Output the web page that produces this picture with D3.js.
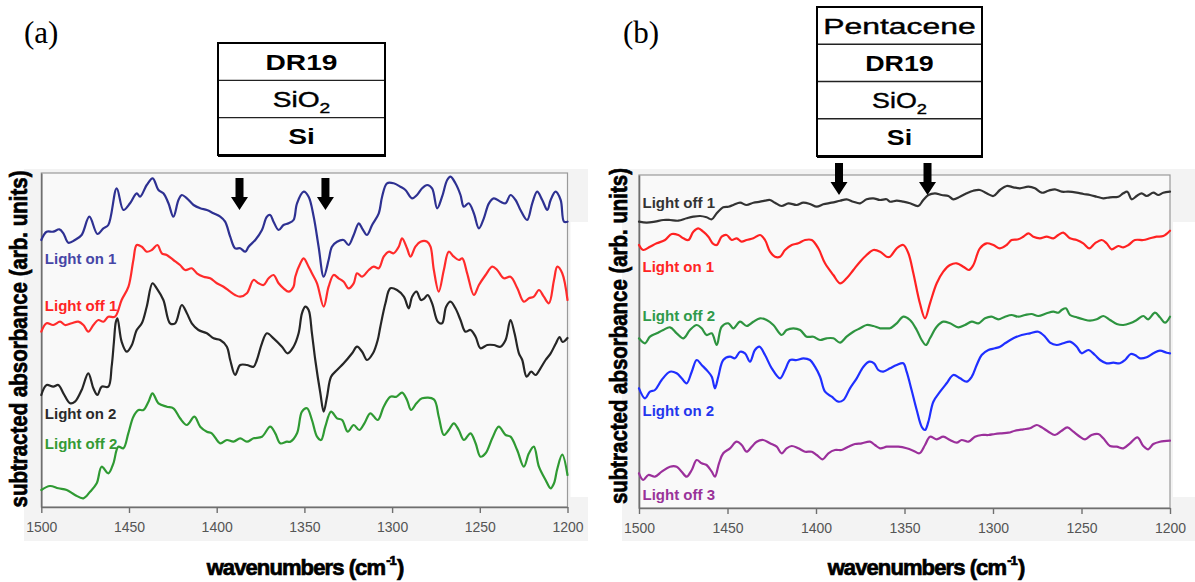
<!DOCTYPE html>
<html>
<head>
<meta charset="utf-8">
<script src="https://cdn.jsdelivr.net/npm/d3@7"></script>
<style>
  body { margin: 0; background: #ffffff; }
  svg { display: block; }
</style>
</head>
<body>
<svg id="fig" width="1195" height="582"></svg>
<script>
// ---- shared axis values ----
const wavenumberTicks = [1500, 1450, 1400, 1350, 1300, 1250, 1200];
const wavenumberDomain = [1500, 1200];
const absorbanceDomainA = [0, 334];   // arb. units
const absorbanceDomainB = [0, 333];   // arb. units

// ---- marker arrows (cm-1) ----
const arrowsA = [1387, 1338];
const arrowsB = [1387, 1337];

// ---- layer stacks ----
const layersA = ["DR19", "SiO2", "Si"];
const layersB = ["Pentacene", "DR19", "SiO2", "Si"];

// ---- series names ----
const seriesNamesA = ["Light on 1", "Light off 1", "Light on 2", "Light off 2"];
const seriesNamesB = ["Light off 1", "Light on 1", "Light off 2", "Light on 2", "Light off 3"];

// ---- panel (a) spectra: [wavenumber, subtracted absorbance] ----
const aLightOn1 = [[1500,267],[1497,275.3],[1493.2,275.3],[1489.7,277.7],[1487.4,273.7],[1484.6,264.3],[1480.8,267],[1477,272],[1472.6,290.3],[1468,273],[1464.6,278.7],[1461.8,282],[1457,318.7],[1453.2,297],[1449.4,303.7],[1445.6,313.7],[1443.7,310.3],[1439.9,322],[1436.5,328.7],[1433.2,317],[1430.4,313.7],[1427.5,303.7],[1424.7,290.3],[1421.8,307],[1419.9,312],[1417,308.7],[1413.2,302],[1409.4,298.7],[1405.6,297],[1401.8,293.7],[1398,290.3],[1395.2,285.3],[1392.3,270.3],[1389.5,258.7],[1386.6,258.7],[1383.7,255.3],[1381.8,260.3],[1378,267],[1374.2,277],[1371.4,290.3],[1369.5,292],[1367.6,285.3],[1364.7,277],[1361.9,282],[1359,283.7],[1356.2,287],[1354.2,303.7],[1350.4,315.3],[1347.6,310.3],[1344.7,290.3],[1341.9,260.3],[1339,230.3],[1336.2,247],[1334.3,260.3],[1331.4,265.3],[1327.6,267],[1324.8,262],[1321.9,272],[1319,283.7],[1317.1,278.7],[1314.3,272],[1311.4,282],[1307.6,293.7],[1305.7,310.3],[1302.9,323.7],[1299.1,323.7],[1295.3,320.3],[1292.4,317],[1288.6,308.7],[1285.8,312],[1282.9,318.7],[1280,322],[1277.2,318.7],[1274.3,298.7],[1271.5,310.3],[1268.6,327],[1266.7,330.3],[1263.9,323.7],[1261,312],[1259.1,300.3],[1256.3,303.7],[1253.4,293.7],[1250.5,278.7],[1247.7,288.7],[1244.8,303.7],[1242,308.7],[1238.2,305.3],[1235.3,303.7],[1232.5,312],[1229.6,307],[1226.8,297],[1223,287],[1220.1,303.7],[1217.3,315.3],[1214.4,307],[1211.5,297],[1209.6,307],[1206.8,315.3],[1203.9,307],[1202,285.3],[1200,285.3]];

const aLightOff1 = [[1500,175.3],[1497,183.7],[1493.2,182],[1489.3,185.3],[1486.5,182],[1482.7,183.7],[1478.9,185.3],[1476,182],[1473.2,175.3],[1470.3,182],[1467.5,187],[1464.6,185.3],[1461.8,190.3],[1458,190.3],[1454.2,207],[1450.3,220.3],[1447.5,247],[1445.6,262],[1442.7,260.3],[1439.9,255.3],[1437,257],[1433.8,262],[1431.3,253.7],[1428.5,252],[1424.7,247],[1420.9,242],[1418,237],[1414.2,238.7],[1411.3,233.7],[1407.5,230.3],[1403.7,228.7],[1399.9,223.7],[1396.1,220.3],[1392.3,215.3],[1389.5,212],[1386.6,210.3],[1382.8,213.7],[1379,227],[1376.1,223.7],[1373.3,222],[1370.4,228.7],[1367.6,232],[1364.7,223.7],[1361.9,218.7],[1359,215.3],[1356.2,220.3],[1355.2,230.3],[1352.3,243.7],[1350.4,248.7],[1347.6,240.3],[1345.7,233.7],[1342.8,223.7],[1339,200.3],[1336.2,220.3],[1333.3,232],[1330.5,228.7],[1327.6,225.3],[1324.8,218.7],[1321.9,223.7],[1320,233.7],[1317.1,230.3],[1313.3,237],[1310.5,240.3],[1307.6,238.7],[1304.8,250.3],[1301.9,255.3],[1299.1,253.7],[1296.2,260.3],[1294.3,268.7],[1291.5,258.7],[1289.5,250.3],[1286.7,260.3],[1283.8,265.3],[1280,265.3],[1278.1,260.3],[1276.2,237],[1273.4,215.3],[1270.5,237],[1267.7,255.3],[1264.8,250.3],[1261.9,247],[1260,248.7],[1257.2,233.7],[1253.4,212],[1250.5,222],[1246.7,232],[1242.9,240.3],[1240.1,237],[1236.3,228.7],[1232.5,230.3],[1228.6,218.7],[1224.9,205.3],[1222,208.7],[1219.2,210.3],[1216.3,217],[1213.5,210.3],[1210.6,203.7],[1207.7,227],[1205.8,240.3],[1203,233.7],[1200,207]];

const aLightOn2 = [[1500,112],[1497,122],[1493.2,120.3],[1490.3,122],[1487.4,113.7],[1483.6,103.7],[1480.8,105.3],[1477,117],[1473.2,133.7],[1470.3,118.7],[1468,112],[1465.6,120.3],[1461.8,120.3],[1459.9,140.3],[1458.6,165],[1457.5,185],[1456.6,188.7],[1454.2,165.3],[1451.3,155.3],[1448.4,162],[1445.6,177],[1442.7,183.7],[1439.9,200.3],[1436.6,223.7],[1434.2,218.7],[1430.4,207],[1426.6,183.7],[1423.7,183.7],[1419.9,202],[1417,193.7],[1414.2,183.7],[1410.4,177],[1405.6,173.7],[1401.8,168.7],[1398,167],[1394.2,160.3],[1392.3,147],[1389.5,132],[1386.6,142],[1382.8,142],[1379,140.3],[1377.1,147],[1374.2,163.7],[1371.4,173.7],[1367.6,168.7],[1362.8,160.3],[1359.6,153.7],[1356.2,160.3],[1353.3,173.7],[1351.4,193.7],[1349.5,200.3],[1347.6,197],[1345.7,173.7],[1343.8,147],[1340.9,113.7],[1339,95.3],[1337.1,110.3],[1334.8,130.3],[1331.4,137],[1327.6,143.7],[1322.8,153.7],[1320,160.3],[1317.1,155.3],[1314.3,147],[1310.9,153.7],[1308.2,167],[1306.7,180.3],[1303.8,203.7],[1301,218.7],[1297.2,217],[1293.3,210.3],[1290.5,198.7],[1288.6,210.3],[1286.1,215.3],[1283.5,207],[1281.6,208.7],[1279.7,212],[1277.2,203.7],[1273.9,185.3],[1271.5,183.7],[1269.2,200.3],[1266.7,205.3],[1263.9,198.7],[1261,187],[1258.2,175.3],[1255.3,177],[1252.4,170.3],[1249.6,158.7],[1245.8,162],[1242,162],[1238.2,160.3],[1235.3,167],[1232.5,187],[1230.2,173.7],[1227.7,153.7],[1225.8,147],[1223.3,130.3],[1220.7,135.3],[1218.2,132],[1215.4,138.7],[1212.5,147],[1209.6,153.7],[1206.8,163],[1204.5,170],[1202.8,165],[1200,169]];

const aLightOff2 = [[1500,17],[1495.1,21],[1490.3,18.7],[1485.5,17],[1480.8,12],[1476,8.7],[1472.2,15.3],[1468.4,23.7],[1465.6,40.3],[1461.8,33.7],[1458.9,43.7],[1456.1,60.3],[1453.2,58.7],[1450.4,73.7],[1447.5,90.3],[1444.6,97],[1441.8,97],[1438.9,105.3],[1436.6,113.7],[1433.2,103.7],[1428.5,100.3],[1424.7,98.7],[1420.9,88.7],[1417,82],[1412.7,90.3],[1409.4,80.3],[1405.6,75.3],[1402.8,73.7],[1398,63.7],[1394.2,67],[1390.4,65.3],[1386.6,68.7],[1382.8,65.3],[1379,68.7],[1374.2,70.3],[1369.5,80.3],[1366.6,73.7],[1363.8,63.7],[1360,65.3],[1358,65.3],[1354.2,73.7],[1351.4,95.3],[1348.5,98.7],[1345.7,87],[1342.8,70.3],[1340.5,67],[1338.1,80.3],[1334.8,95.3],[1331.4,88.7],[1328.5,87],[1325.3,75.3],[1321.9,82],[1318.7,77],[1315.8,83.7],[1312.4,93.7],[1308.2,87],[1304.8,100.3],[1301,110.3],[1297.5,110.3],[1294.3,114.3],[1291.5,107],[1289.2,97],[1286.1,103.7],[1282.9,108.7],[1276.2,107.7],[1273.4,90.3],[1270.5,72],[1267.7,77],[1264.8,83.7],[1262,77],[1259.1,67],[1255.3,73.7],[1252.4,63.7],[1249.6,50.3],[1246.7,53.7],[1242.9,68.7],[1239.2,80.3],[1235.3,72],[1232.5,70.3],[1228.7,57],[1224.9,40.3],[1222,53.7],[1219.2,60.3],[1216.3,40.3],[1212.5,27],[1209.6,18.7],[1207.7,23.7],[1205.8,38.3],[1203,52.3],[1200,32]];

// ---- panel (b) spectra: [wavenumber, subtracted absorbance] ----
const bLightOff1 = [[1500,286.3],[1495.7,285.3],[1491,286.3],[1486.3,288],[1482.5,288],[1477.8,287.3],[1473.1,289.7],[1469.3,291.3],[1465.5,292],[1461.8,290.7],[1458.9,288.7],[1456.1,294.7],[1452.4,300.7],[1449.5,301.3],[1446.7,303],[1442.9,305.3],[1439.2,303],[1435.4,305.3],[1431.6,306.3],[1428.8,307.3],[1426,308],[1423.2,305.3],[1419.4,302],[1415.6,304.7],[1410.9,303],[1407.2,305.3],[1403.4,304],[1399.6,301.3],[1395.9,303.7],[1391.2,305.3],[1386.4,307.3],[1382.7,308.7],[1378.9,306.3],[1375.1,304.7],[1371.4,308.7],[1367.6,309.7],[1363.9,308],[1360.1,308.7],[1358.2,306.3],[1354.4,307.3],[1350.7,306.3],[1346.9,304.7],[1342.2,302],[1339.4,308],[1336.5,313],[1332.8,314.7],[1329,313],[1325.2,312],[1322.4,308.7],[1318.7,311.3],[1314.9,314.7],[1311.1,317.3],[1307.4,318],[1303.6,314.7],[1299.8,312],[1296.1,318],[1292.3,322],[1288.5,320.7],[1284.8,319.7],[1280,321.3],[1276.3,319.7],[1272.5,315.3],[1268.7,317.3],[1265,318.7],[1261.2,316.3],[1257.4,316.3],[1252.7,315.3],[1248.9,314],[1245.2,313],[1241.4,311.3],[1237.7,309.7],[1233.9,310.7],[1229.2,311.3],[1226.4,314.7],[1224.1,316.3],[1221.7,308.7],[1218.8,312],[1216,314.7],[1213.2,312],[1209.4,315.3],[1206.6,313],[1203.8,315.3],[1200,316.3]];

const bLightOn1 = [[1500,263],[1497.6,258],[1493.8,261.3],[1490,264.7],[1485.3,268],[1481.5,274],[1477.8,273],[1474.9,269.7],[1472.1,268],[1469.3,276.3],[1466.5,279.7],[1463.7,276.3],[1460.8,271.3],[1458.4,264.7],[1456.1,263],[1453.3,271.3],[1450.5,273],[1447.6,268],[1444.8,269.7],[1442,266.3],[1439.2,268],[1435.4,269.7],[1431.6,273],[1428.8,268],[1426,256.3],[1423.2,251.3],[1420.3,251.3],[1417.5,258],[1413.7,263],[1410,264.7],[1406.2,268],[1402.4,268],[1398.7,259.7],[1394.9,244.7],[1390.2,233],[1386.4,224.7],[1382.7,229.7],[1378.9,238],[1375.1,246.3],[1371.4,253],[1367.6,258],[1363.8,256.3],[1360.1,251.3],[1358.2,251.3],[1354.4,259.7],[1350.7,263],[1347.8,254.7],[1345,234.7],[1341.3,204.7],[1338.4,189.7],[1335.6,204.7],[1331.8,224.7],[1328.1,236.3],[1324.3,243],[1320.5,244.7],[1316.8,241.3],[1313.6,238],[1311.1,243],[1307.4,259.7],[1303.6,264.7],[1299.8,263],[1296.1,259.7],[1292.3,263],[1289.5,268],[1285.7,268.7],[1282.9,271.3],[1280,274.7],[1277.2,271.3],[1273.5,269.7],[1269.7,271.3],[1265.9,269.7],[1263.1,273],[1260.3,275.3],[1256.5,269.7],[1252.7,268],[1249,264.7],[1245.6,259.7],[1242.4,264.7],[1238.6,268],[1235.8,264.7],[1233,258.7],[1229.2,262],[1226.4,260.7],[1223.5,263],[1219.8,268],[1215.1,268],[1211.3,269.7],[1207.6,271.3],[1203.8,272],[1200,277.3]];

const bLightOff2 = [[1500,169.7],[1496.6,164.7],[1493.8,171.3],[1490,174.7],[1486.3,178],[1482.5,180.7],[1478.7,174.7],[1474.9,169.7],[1471.2,178],[1467.4,183],[1464.6,179.7],[1461.8,173],[1458.9,174.7],[1456.1,163],[1453.3,181.3],[1449.5,184.7],[1446.7,179.7],[1442.9,186.3],[1439.2,182],[1435.4,186.3],[1431.6,189.7],[1427.9,188],[1424.1,183],[1419.4,173],[1416.6,178],[1412.8,179.7],[1409,178],[1405.3,171.3],[1401.5,171.3],[1397.7,168],[1394,169.7],[1390.2,169.7],[1386.4,165.3],[1382.7,171.3],[1378.9,176.3],[1375.1,179.7],[1371.4,183],[1367.6,182],[1363.8,179.7],[1360.1,179.7],[1358.2,179.7],[1354.4,184.7],[1350.7,191.3],[1346.9,188],[1343.1,178],[1340.3,168],[1337.9,163],[1335.6,169.7],[1331.8,181.3],[1328.1,186.3],[1324.3,184.7],[1319.6,180.7],[1315.8,183],[1312,186.3],[1308.3,184.7],[1304.5,189.7],[1300.8,191.3],[1297,188.7],[1293.2,191.3],[1289.5,193],[1285.7,191.3],[1281.9,193],[1278.2,194],[1274.4,192],[1269.7,194.7],[1265.9,196.3],[1263.1,195.3],[1261.2,198],[1258.8,199.7],[1256.5,193],[1252.7,190.7],[1249,188.7],[1245.2,187.3],[1241.4,188.7],[1237.7,192],[1233.9,188],[1230.1,184],[1226.4,183],[1222.6,184.7],[1218.8,188],[1215.1,192],[1212.3,188.7],[1208.5,195.3],[1205.7,190.7],[1202.8,185.3],[1200,191.3]];

const bLightOn2 = [[1500,119.7],[1496.6,109.7],[1493.8,116.3],[1491,118],[1487.2,128],[1482.5,136.3],[1478.7,134.7],[1475.9,129.7],[1473.1,124.7],[1470.2,136.3],[1467.4,148],[1464.6,143],[1461.8,138],[1458.9,131.3],[1457.1,119.7],[1455.2,131.3],[1452.4,148],[1448.6,151.3],[1445.8,149.7],[1442.9,156.3],[1440.1,154.7],[1437.3,146.3],[1434.5,158],[1432,161.3],[1428.8,153],[1425,139.7],[1420.3,129.7],[1417.5,138],[1414.6,148],[1410.9,148],[1407.1,149.7],[1403.4,148],[1400.6,141.3],[1397.7,131.3],[1394.9,116.3],[1391.1,111.3],[1387.4,106.3],[1384.5,108],[1380.8,119.7],[1377,129.7],[1373.2,141.3],[1369.9,146.3],[1367.2,144.7],[1364.8,138],[1362,136.3],[1358.2,139.7],[1354.4,143],[1350.7,144.7],[1348.8,136.3],[1346,118],[1343.1,98],[1340.3,81.3],[1338.4,78],[1336.5,86.3],[1333.7,106.3],[1329.9,116.3],[1326.2,124.7],[1322.4,133],[1318.6,129.7],[1314.9,126.3],[1312,131.3],[1309.2,143],[1306.4,153],[1302.6,158],[1298.9,159.7],[1296,161.3],[1293.2,164.7],[1288.5,169.7],[1283.8,173],[1279.1,174.7],[1274.4,176.3],[1270.6,171.3],[1267.8,165.3],[1264,163],[1260.3,164.7],[1256.5,166.3],[1252.7,161.3],[1249.9,154.7],[1246.1,158],[1242.4,153],[1239.5,148],[1235.8,144.7],[1232,145.3],[1228.3,144.7],[1225.4,148],[1222.2,154],[1219.8,153],[1216.9,149.7],[1213.2,150.7],[1209.4,154.7],[1205.7,157.3],[1201.9,155.3],[1200,154.7]];

const bLightOff3 = [[1500,34.7],[1497.6,28],[1494.7,33],[1491,31.3],[1487.2,36.3],[1482.5,41.3],[1478.7,41.3],[1475.9,36.3],[1473.1,31.3],[1470.2,38],[1467.4,48],[1464.6,44.7],[1461.8,43],[1458.9,36.3],[1457.1,31.3],[1454.8,44.7],[1452.4,54.7],[1448.6,59.7],[1444.8,66.3],[1442,63],[1439.2,56.3],[1436.3,61.3],[1433.5,66.3],[1429.8,68],[1426,64.7],[1422.2,61.3],[1419.4,54.7],[1416.6,59.7],[1413.7,62],[1410,59.7],[1406.2,56.3],[1402.4,56.3],[1399.6,53],[1396.2,48.7],[1393,54.7],[1389.3,58],[1385.5,58],[1381.7,61.3],[1378,64],[1374.2,64.7],[1369.5,66.3],[1366.7,63],[1363.8,59.7],[1360.1,61.3],[1358.2,61.3],[1353.5,61.3],[1348.8,59.7],[1345,57.3],[1341.6,54.7],[1338.4,63],[1335.6,71.3],[1331.8,68.7],[1328.1,71.3],[1324.3,68],[1320.5,65.3],[1317.7,68],[1313.9,66.3],[1310.2,71.3],[1306.4,73],[1302.6,73],[1298.9,74],[1295.1,74.7],[1291.3,75.3],[1287.6,77.3],[1282.9,78.7],[1279.1,79.7],[1275.3,83],[1272.5,80.7],[1268.7,76.3],[1265,73],[1261.2,77.3],[1258,80.7],[1254.6,76.3],[1250.9,71.3],[1248,68.7],[1244.3,73],[1240.5,74],[1237.7,69.7],[1233.9,62],[1230.1,61.3],[1226.4,59.7],[1222.6,64.7],[1218.4,70.7],[1215.1,62],[1212.3,58.7],[1209.4,64],[1205.7,66.3],[1200,67.3]];

// ---- drawing ----
const svg = d3.select("#fig");
const SANS = "'Liberation Sans', Arial, sans-serif";

function drawPanel(p) {
  const g = svg.append("g");

  // chart backdrop
  g.append("rect").attr("x", p.bgLeft).attr("y", 169).attr("width", p.bgRight - p.bgLeft)
    .attr("height", 372).attr("fill", "#f3f3f3");
  g.append("rect").attr("x", p.right + 3).attr("y", 222).attr("width", p.bgRight - p.right - 3)
    .attr("height", 275).attr("fill", "#ffffff");
  g.append("rect").attr("x", p.left).attr("y", p.top).attr("width", p.right - p.left)
    .attr("height", p.bottom - p.top).attr("fill", "#f9f9f9")
    .attr("stroke", "#9a9a9a").attr("stroke-width", 1.2);

  const x = d3.scaleLinear().domain(wavenumberDomain).range([p.left, p.right]);
  const y = d3.scaleLinear().domain(p.yDomain).range([p.bottom, p.top]);

  // axes
  const xAxis = g.append("g").attr("transform", `translate(0,${p.bottom})`)
    .call(d3.axisBottom(x).tickValues(wavenumberTicks).tickFormat(d3.format("d"))
      .tickSizeInner(6).tickSizeOuter(0).tickPadding(9));
  xAxis.select(".domain").attr("stroke", "#6f6f6f").attr("stroke-width", 1.6);
  xAxis.selectAll(".tick line").attr("stroke", "#6f6f6f").attr("stroke-width", 1.4);
  xAxis.selectAll(".tick text").attr("fill", "#555").attr("font-family", SANS)
    .attr("font-size", 14);

  const yAxis = g.append("g").attr("transform", `translate(${p.left},0)`)
    .call(d3.axisLeft(y).tickValues([]).tickSizeOuter(0));
  yAxis.select(".domain").attr("stroke", "#6f6f6f").attr("stroke-width", 1.6);

  // spectra
  const line = d3.line().x(d => x(d[0])).y(d => y(d[1])).curve(d3.curveCatmullRom.alpha(0.5));
  p.series.forEach(s => {
    g.append("path").datum(s.data).attr("d", line).attr("fill", "none")
      .attr("stroke", s.color).attr("stroke-width", 2.2)
      .attr("stroke-linejoin", "round").attr("stroke-linecap", "round");
  });

  // series labels
  p.series.forEach(s => {
    g.append("text").attr("x", p.left + 3.5).attr("y", s.labelY + 5.5)
      .attr("font-family", SANS).attr("font-weight", "bold").attr("font-size", 15)
      .attr("fill", s.labelColor).text(s.name);
  });

  // peak marker arrows
  p.arrows.forEach(w => {
    const cx = x(w), t = p.arrowTop, h = 32, sw = 4, hw = 8.5, hh = 13;
    const path = d3.path();
    path.moveTo(cx - sw, t);
    path.lineTo(cx + sw, t);
    path.lineTo(cx + sw, t + h - hh);
    path.lineTo(cx + hw, t + h - hh);
    path.lineTo(cx, t + h);
    path.lineTo(cx - hw, t + h - hh);
    path.lineTo(cx - sw, t + h - hh);
    path.closePath();
    g.append("path").attr("d", path.toString()).attr("fill", "#000");
  });

  // axis titles
  g.append("text")
    .attr("transform", `translate(${p.yTitleX},${p.yTitleY}) rotate(-90)`)
    .attr("text-anchor", "middle").attr("dominant-baseline", "central")
    .attr("font-family", SANS).attr("font-weight", "bold").attr("font-size", 23)
    .attr("stroke", "#000").attr("stroke-width", 0.7)
    .attr("textLength", p.yTitleLen).attr("lengthAdjust", "spacingAndGlyphs")
    .text("subtracted absorbance (arb. units)");

  const xt = g.append("text").attr("x", p.xTitleX).attr("y", 575)
    .attr("text-anchor", "middle")
    .attr("font-family", SANS).attr("font-weight", "bold").attr("font-size", 22)
    .attr("letter-spacing", -0.9)
    .attr("stroke", "#000").attr("stroke-width", 0.7);
  xt.append("tspan").text("wavenumbers (cm");
  xt.append("tspan").attr("font-size", 13).attr("dx", 1).attr("dy", -10).text("-1");
  xt.append("tspan").attr("dx", 1).attr("dy", 10).text(")");

  // panel letter
  svg.append("text").attr("x", p.letterX).attr("y", 43)
    .attr("font-family", "'Liberation Serif', 'Times New Roman', serif")
    .attr("font-size", 31).attr("fill", "#000").text(p.letter);

  // layer stack
  const bx = p.box, rowH = (bx.y1 - bx.y0) / p.layers.length;
  const cx = (bx.x0 + bx.x1) / 2;
  p.layers.forEach((name, i) => {
    const ty = bx.y0 + rowH * (i + 0.5) + 8;
    const bold = name === "DR19" || name === "Si";
    const t = g.append("text")
      .attr("transform", `translate(${cx},${ty}) scale(${name === "Pentacene" ? 1.45 : bx.sx},1)`)
      .attr("text-anchor", "middle").attr("font-family", SANS)
      .attr("font-size", 22).attr("font-weight", bold ? "bold" : "normal").attr("fill", "#000")
      .attr("stroke", bold ? "none" : "#000").attr("stroke-width", 0.4);
    const m = name.match(/^(.*?)(\d)$/);
    if (name === "SiO2" && m) {
      t.append("tspan").text(m[1]);
      t.append("tspan").attr("font-size", 15).attr("dy", 6).text(m[2]);
    } else {
      t.text(name);
    }
    if (i > 0) {
      g.append("line").attr("x1", bx.x0).attr("x2", bx.x1)
        .attr("y1", bx.y0 + rowH * i).attr("y2", bx.y0 + rowH * i)
        .attr("stroke", "#222").attr("stroke-width", 1.3);
    }
  });
  g.append("rect").attr("x", bx.x0).attr("y", bx.y0).attr("width", bx.x1 - bx.x0)
    .attr("height", bx.y1 - bx.y0).attr("fill", "none").attr("stroke", "#000").attr("stroke-width", 2);
  g.append("line").attr("x1", bx.x0).attr("x2", bx.x1 + 1).attr("y1", bx.y1 + 0.5).attr("y2", bx.y1 + 0.5)
    .attr("stroke", "#000").attr("stroke-width", 3);
}

drawPanel({
  letter: "(a)", letterX: 24,
  left: 41.3, right: 567.5, top: 173, bottom: 507,
  bgLeft: 24, bgRight: 588,
  yDomain: absorbanceDomainA,
  yTitleX: 19, yTitleY: 339, yTitleLen: 337,
  xTitleX: 305,
  arrows: arrowsA, arrowTop: 178,
  layers: layersA,
  box: { x0: 218, x1: 385, y0: 43, y1: 155, sx: 1.28 },
  series: [
    { name: seriesNamesA[0], data: aLightOn1,  color: "#2e3192", labelColor: "#4646a6", labelY: 258 },
    { name: seriesNamesA[1], data: aLightOff1, color: "#ff2b2b", labelColor: "#ff2424", labelY: 305 },
    { name: seriesNamesA[2], data: aLightOn2,  color: "#262626", labelColor: "#2a2a2a", labelY: 413 },
    { name: seriesNamesA[3], data: aLightOff2, color: "#2f9a33", labelColor: "#349a34", labelY: 443 }
  ]
});

drawPanel({
  letter: "(b)", letterX: 623,
  left: 639, right: 1170, top: 175, bottom: 508,
  bgLeft: 622, bgRight: 1195,
  yDomain: absorbanceDomainB,
  yTitleX: 618.5, yTitleY: 336, yTitleLen: 336,
  xTitleX: 926,
  arrows: arrowsB, arrowTop: 163,
  layers: layersB,
  box: { x0: 817, x1: 982, y0: 7, y1: 156, sx: 1.22 },
  series: [
    { name: seriesNamesB[0], data: bLightOff1, color: "#333333", labelColor: "#333333", labelY: 202 },
    { name: seriesNamesB[1], data: bLightOn1,  color: "#ff2222", labelColor: "#ff2424", labelY: 266 },
    { name: seriesNamesB[2], data: bLightOff2, color: "#2e9440", labelColor: "#2f9a4a", labelY: 315 },
    { name: seriesNamesB[3], data: bLightOn2,  color: "#1f2fff", labelColor: "#2436ee", labelY: 410 },
    { name: seriesNamesB[4], data: bLightOff3, color: "#9b309b", labelColor: "#993399", labelY: 494 }
  ]
});
</script>
</body>
</html>
